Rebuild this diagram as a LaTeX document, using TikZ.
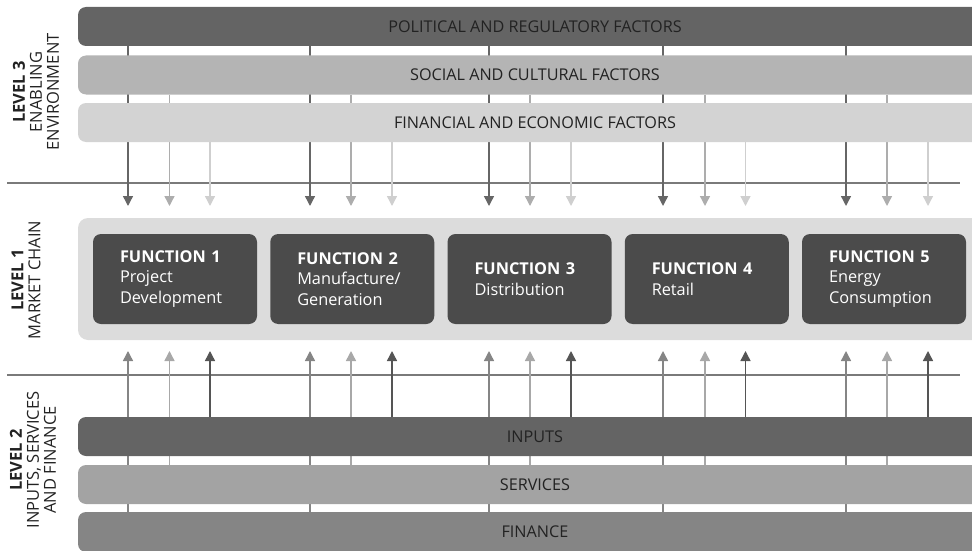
\documentclass[tikz,border=0pt]{standalone}
\usepackage{fontspec}
\setmainfont{Open Sans}
\usetikzlibrary{arrows.meta}
\pgfdeclarelayer{background}
\pgfsetlayers{background,main}
\definecolor{cPol}{HTML}{646464}
\definecolor{cSoc}{HTML}{B4B4B4}
\definecolor{cFinF}{HTML}{D3D3D3}
\definecolor{cPanel}{HTML}{DCDCDC}
\definecolor{cFunc}{HTML}{4B4B4B}
\definecolor{cInp}{HTML}{646464}
\definecolor{cSer}{HTML}{A3A3A3}
\definecolor{cFin}{HTML}{858585}
\definecolor{cTxt}{HTML}{222222}
\definecolor{cLine}{HTML}{7A7A7A}
\definecolor{aDark}{HTML}{666666}
\definecolor{aMid}{HTML}{ADADAD}
\definecolor{aLight}{HTML}{CFCFCF}
\definecolor{bA}{HTML}{858585}
\definecolor{bB}{HTML}{A8A8A8}
\definecolor{bC}{HTML}{555555}
\begin{document}
\begin{tikzpicture}[x=1pt,y=-1pt,
  bar/.style={draw=none, rounded corners=8pt, minimum width=914pt, minimum height=39pt,
    inner sep=0pt, text=cTxt, font=\fontsize{16.2}{19}\selectfont},
  panelbox/.style={draw=none, fill=cPanel, rounded corners=10pt, minimum width=914pt, minimum height=122pt, inner sep=0pt},
  funcbox/.style={draw=none, fill=cFunc, rounded corners=8pt, minimum height=90pt,
    text width=110pt, inner xsep=27pt, inner ysep=0pt, align=left, text=white,
    font=\fontsize{16.3}{20.5}\selectfont},
  lvl/.style={rotate=90, align=center, text=cTxt, inner sep=0pt, font=\fontsize{16.5}{17}\selectfont},
  hline/.style={draw=cLine, line width=1.3pt},
  arr/.style={line width=1.4pt, -{Triangle[width=10pt,length=10pt]}}
]
\useasboundingbox (0,0) rectangle (972,551);
\clip (0,0) rectangle (972,551);

% Level 3 bars
\node[bar, fill=cPol] (pol) at (535,26.5) {POLITICAL AND REGULATORY FACTORS};
\node[bar, fill=cSoc] (soc) at (535,75) {SOCIAL AND CULTURAL FACTORS};
\node[bar, fill=cFinF] (fif) at (535,122.5) {FINANCIAL AND ECONOMIC FACTORS};

% Level 1 panel
\node[panelbox] (chain) at (535,279) {};
\node[funcbox] (f1) at (175,279) {\textbf{FUNCTION 1}\\Project\\Development};
\node[funcbox] (f2) at (352.25,279) {\textbf{FUNCTION 2}\\Manufacture/\\Generation};
\node[funcbox] (f3) at (529.5,279) {\textbf{FUNCTION 3}\\Distribution};
\node[funcbox] (f4) at (706.75,279) {\textbf{FUNCTION 4}\\Retail};
\node[funcbox] (f5) at (884,279) {\textbf{FUNCTION 5}\\Energy\\Consumption};

% Level 2 bars
\node[bar, fill=cInp] (inp) at (535,436.5) {INPUTS};
\node[bar, fill=cSer] (ser) at (535,484.5) {SERVICES};
\node[bar, fill=cFin, minimum height=40pt] (fin) at (535,532) {FINANCE};

% Level labels
\node[lvl] (l3) at (36,92) {\textbf{LEVEL 3}\\ENABLING\\ENVIRONMENT};
\node[lvl] (l1) at (26,280) {\textbf{LEVEL 1}\\MARKET CHAIN};
\node[lvl] (l2) at (33,460) {\textbf{LEVEL 2}\\INPUTS, SERVICES\\AND FINANCE};

% separator lines
\coordinate (h1l) at (7,183);
\coordinate (h1r) at (960,183);
\coordinate (h2l) at (7,375);
\coordinate (h2r) at (960,375);

\begin{pgfonlayer}{background}
\draw[hline] (h1l) -- (h1r);
\draw[hline] (h2l) -- (h2r);
\foreach \g/\xa/\xb/\xc in {1/128/169.5/210, 2/310/351/392, 3/489/530/571, 4/663/705/745.5, 5/846/887/928}{
  \coordinate (ta\g) at (\xa,206);
  \coordinate (tb\g) at (\xb,206);
  \coordinate (tc\g) at (\xc,206);
  \draw[arr, aDark] (pol.south -| ta\g) -- (ta\g);
  \draw[arr, aMid] (soc.south -| tb\g) -- (tb\g);
  \draw[arr, aLight] (fif.south -| tc\g) -- (tc\g);
  \coordinate (ba\g) at (\xa,351);
  \coordinate (bb\g) at (\xb,351);
  \coordinate (bc\g) at (\xc,351);
  \draw[arr, bA] (fin.north -| ba\g) -- (ba\g);
  \draw[arr, bB] (ser.north -| bb\g) -- (bb\g);
  \draw[arr, bC] (inp.north -| bc\g) -- (bc\g);
}
\end{pgfonlayer}
\end{tikzpicture}
\end{document}
